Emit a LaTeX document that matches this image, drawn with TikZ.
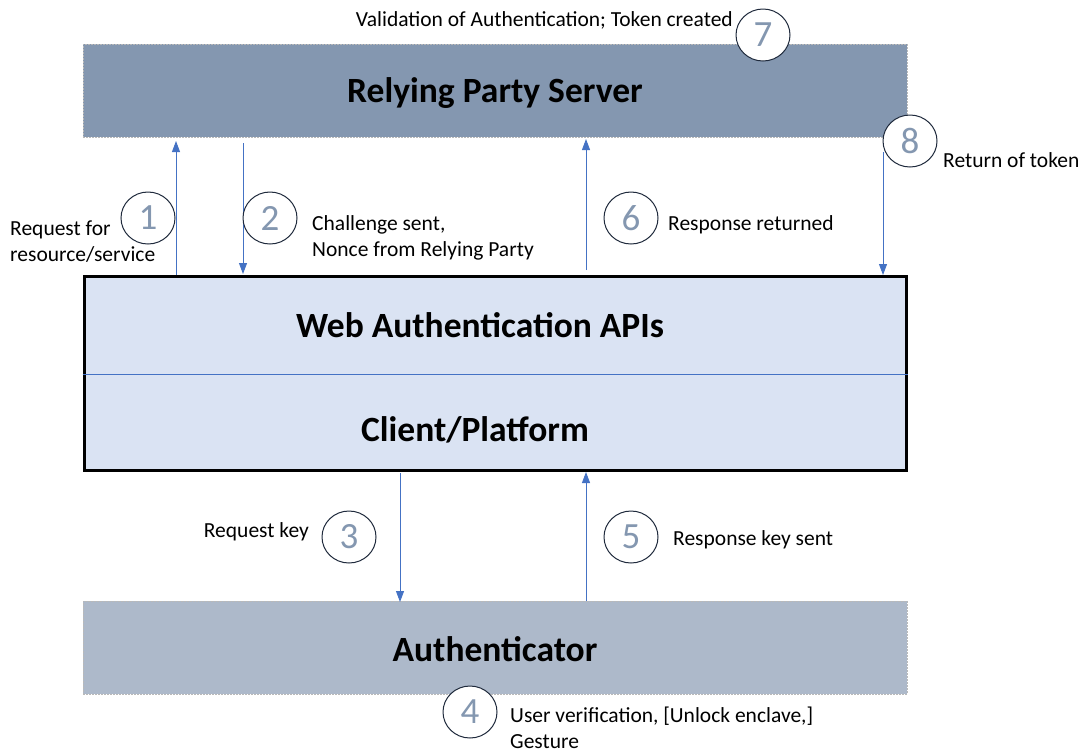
\documentclass[tikz,border=0pt]{standalone}
\usepackage{fontspec}
\setmainfont{Carlito}
\usetikzlibrary{arrows.meta,shapes.geometric}
\definecolor{rpfill}{HTML}{8497B0}
\definecolor{webfill}{HTML}{DAE3F3}
\definecolor{authfill}{HTML}{ADB9CA}
\definecolor{arrowblue}{HTML}{4472C4}
\definecolor{numcol}{HTML}{8497B0}
\definecolor{circedge}{HTML}{1F2A3C}
\tikzset{
  layer/.style={draw=gray!55, dash pattern=on 2pt off 1pt, line width=0.8pt, minimum width=824pt, inner sep=0pt},
  title/.style={font=\bfseries\fontsize{35.5}{40}\selectfont},
  flow/.style={draw=arrowblue, line width=0.9pt, -{Triangle[length=11pt,width=8pt]}},
  num/.style={ellipse, draw=circedge, line width=1pt, minimum width=54pt, minimum height=52pt, inner sep=0pt, text=numcol, font=\fontsize{37}{40}\selectfont},
  lbl/.style={font=\fontsize{21.5}{26}\selectfont, inner sep=0pt, align=left}
}
\begin{document}
\begin{tikzpicture}[x=1pt,y=-1pt]
\useasboundingbox (0,0) rectangle (1083,753);
% boxes
\node[layer, fill=rpfill, minimum height=93pt] (rp) at (495,90.5) {};
\node[title] (rptext) at (495,93) {Relying Party Server};
\node[draw=black, line width=3pt, fill=webfill, minimum width=822pt, minimum height=194pt, inner sep=0pt] (web) at (495,373) {};
\draw[draw=arrowblue, line width=0.8pt] (web.west |- 0,374) -- (web.east |- 0,374);
\node[title] (webtext) at (480,325) {Web Authentication APIs};
\node[title] (clienttext) at (475,430) {Client/Platform};
\node[layer, fill=authfill, minimum height=93pt] (auth) at (495,647.5) {};
\node[title] (authtext) at (495,649) {Authenticator};
% anchor coordinates
\coordinate (a1s) at (176,275);
\coordinate (a1e) at (176,141);
\coordinate (a2s) at (243,143);
\coordinate (a2e) at (243,274);
\coordinate (a6s) at (586,270);
\coordinate (a6e) at (586,139);
\coordinate (a8s) at (883,152);
\coordinate (a8e) at (883,275);
\coordinate (a3s) at (400,473);
\coordinate (a3e) at (400,602);
\coordinate (a5s) at (586,601);
\coordinate (a5e) at (586,472);
\draw[flow] (a1s) -- (a1e);
\draw[flow] (a2s) -- (a2e);
\draw[flow] (a6s) -- (a6e);
\draw[flow] (a8s) -- (a8e);
\draw[flow] (a3s) -- (a3e);
\draw[flow] (a5s) -- (a5e);
% number circles
\node[num, fill=white] (n1) at (148,218) {1};
\node[num, fill=white] (n2) at (270,218) {2};
\node[num, fill=white] (n6) at (631,218) {6};
\node[num, fill=white] (n7) at (763,35) {7};
\node[num, fill=white] (n8) at (910,141) {8};
\node[num, fill=white] (n3) at (349,537) {3};
\node[num, fill=white] (n5) at (631,537) {5};
\node[num, fill=white] (n4) at (470,712) {4};
% labels
\node[lbl, anchor=east] (l7) at (733,20) {Validation of Authentication; Token created};
\node[lbl, anchor=west] (l1) at (10,242) {Request for\\resource/service};
\node[lbl, anchor=west] (l2) at (312,238) {Challenge sent,\\Nonce from Relying Party};
\node[lbl, anchor=west] (l6) at (668,225) {Response returned};
\node[lbl, anchor=west] (l8) at (943,160) {Return of token};
\node[lbl, anchor=east] (l3) at (309,532) {Request key};
\node[lbl, anchor=west] (l5) at (673,540) {Response key sent};
\node[lbl, anchor=west] (l4) at (510,728) {User verification, [Unlock enclave,]\\Gesture};
\end{tikzpicture}
\end{document}
